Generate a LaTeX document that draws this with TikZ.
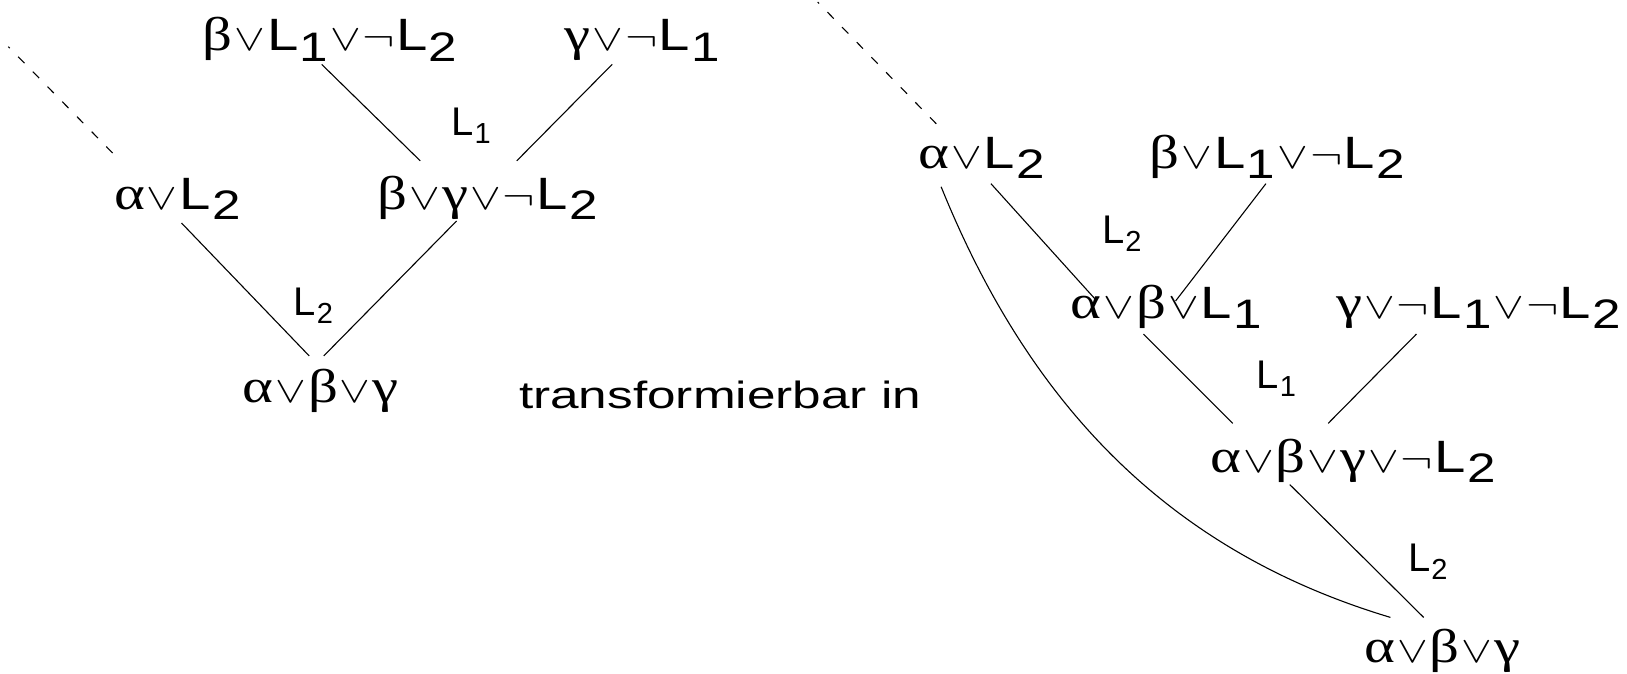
\documentclass[tikz,border=0pt]{standalone}
\usepackage{fontspec}
\setmainfont{Liberation Sans}
\newfontfamily\grf{Liberation Serif}
\usetikzlibrary{calc}
\newcommand\Ga{{\grf\fontsize{46}{46}\selectfont α}}
\newcommand\Gb{{\grf\fontsize{46}{46}\selectfont β}}
\newcommand\Gc{{\grf\fontsize{46}{46}\selectfont γ}}
\newcommand\Or{\kern1.5pt\scalebox{3.6}{\fontsize{10}{12}\selectfont$\vee$}\kern1.5pt}
\newcommand\Ng{\scalebox{3.8}{\fontsize{10}{12}\selectfont$\neg$}\kern1pt}
\newcommand\Ls[1]{L\kern1pt\raisebox{-10pt}{\fontsize{40}{40}\selectfont #1}}
\newcommand\Lt[1]{L\kern1pt\raisebox{-8pt}{\fontsize{29}{29}\selectfont #1}}
\newcommand\Nd[1]{\scalebox{1.28}[1.03]{#1}}
\begin{document}
\begin{tikzpicture}[x=1.0376pt,y=-1.0376pt,
  nd/.style={inner sep=0pt, anchor=base, font=\fontsize{44}{50}\selectfont},
  lb/.style={inner sep=0pt, anchor=base, font=\fontsize{40}{46}\selectfont},
  edge/.style={draw=black, line width=1.1pt},
  dsh/.style={edge, dash pattern=on 9pt off 12pt, dash phase=7pt}]
\useasboundingbox (0,0) rectangle (1568,649);
% left tree
\node[nd] (l1) at (318,49) {\Nd{\Gb\Or\Ls{1}\Or\Ng\Ls{2}}};
\node[nd] (l2) at (619,49) {\Nd{\Gc\Or\Ng\Ls{1}}};
\node[lb] (ll1) at (454,131) {\Lt{1}};
\node[nd] (l3) at (171,202) {\Nd{\Ga\Or\Ls{2}}};
\node[nd] (l4) at (470,202) {\Nd{\Gb\Or\Gc\Or\Ng\Ls{2}}};
\node[lb] (ll2) at (302,304) {\Lt{2}};
\node[nd] (l5) at (309,388) {\Nd{\Ga\Or\Gb\Or\Gc}};
\node[inner sep=0pt, anchor=base, font=\fontsize{38}{44}\selectfont] (tr) at (694,394) {\scalebox{1.35}[1]{transformierbar in}};
\coordinate (ld) at (8,45);
\draw[edge] ($(l1.base)+(-8,13)$) -- ($(l4.base)+(-65,-47)$);
\draw[edge] ($(l2.base)+(-29,13)$) -- ($(l4.base)+(28,-47)$);
\draw[edge] ($(l3.base)+(4,13)$) -- ($(l5.base)+(-11,-45)$);
\draw[edge] ($(l4.base)+(-30,11)$) -- ($(l5.base)+(3,-45)$);
\draw[dsh] (ld) -- ($(l3.base)+(-58,-50)$);
% right tree
\node[nd] (r1) at (946,162) {\Nd{\Ga\Or\Ls{2}}};
\node[nd] (r2) at (1231,162) {\Nd{\Gb\Or\Ls{1}\Or\Ng\Ls{2}}};
\node[lb] (rl1) at (1081,235) {\Lt{2}};
\node[nd] (r3) at (1124,307) {\Nd{\Ga\Or\Gb\Or\Ls{1}}};
\node[nd] (r4) at (1425,307) {\Nd{\Gc\Or\Ng\Ls{1}\Or\Ng\Ls{2}}};
\node[lb] (rl2) at (1230,374) {\Lt{1}};
\node[nd] (r5) at (1304,455) {\Nd{\Ga\Or\Gb\Or\Gc\Or\Ng\Ls{2}}};
\node[lb] (rl3) at (1376,551) {\Lt{2}};
\node[nd] (r6) at (1390,638) {\Nd{\Ga\Or\Gb\Or\Gc}};
\coordinate (rd) at (788,2);
\draw[edge] ($(r1.base)+(9,15)$) -- ($(r3.base)+(-67,-17)$);
\draw[edge] ($(r2.base)+(-11,15)$) -- ($(r3.base)+(9,-17)$);
\draw[edge] ($(r3.base)+(-22,15)$) -- ($(r5.base)+(-116,-47)$);
\draw[edge] ($(r4.base)+(-60,15)$) -- ($(r5.base)+(-24,-47)$);
\draw[edge] ($(r5.base)+(-61,12)$) -- ($(r6.base)+(-18,-43)$);
\draw[edge] ($(r1.base)+(-39,18)$) .. controls (998,405) and (1140,535) .. ($(r6.base)+(-50,-43)$);
\draw[dsh] (rd) -- ($(r1.base)+(-43,-42)$);
\end{tikzpicture}
\end{document}
